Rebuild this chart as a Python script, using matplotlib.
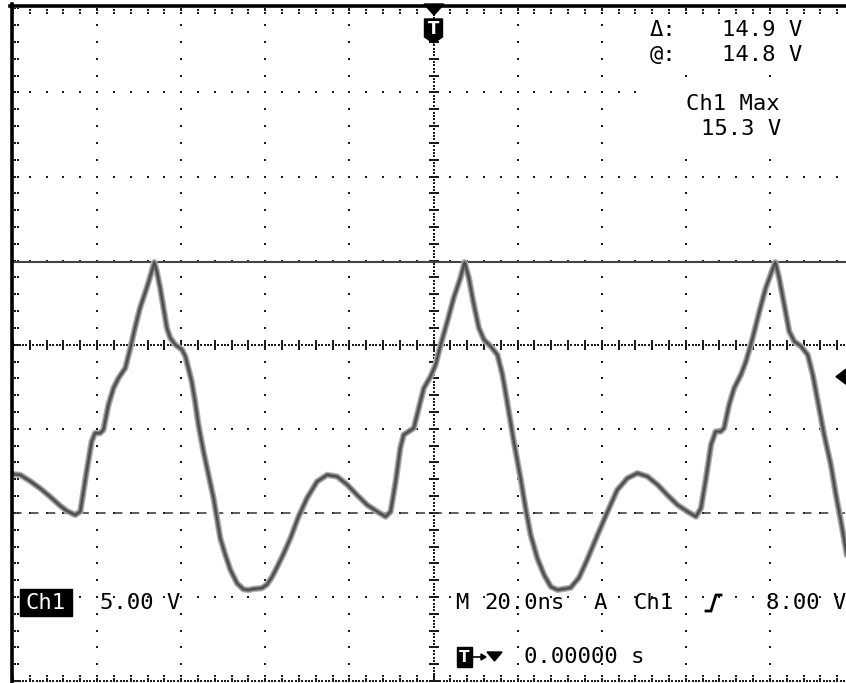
import numpy as np
import matplotlib
matplotlib.use("Agg")
import matplotlib.pyplot as plt
from matplotlib.patches import Polygon, Rectangle
from matplotlib.lines import Line2D

# Ch1 record: time in ns (trigger at 0) and voltage in V
time_ns = [-99.9, -98.3, -96.0, -93.6, -91.2, -88.8, -87.2, -85.2, -84.0, -82.5,
           -81.3, -80.5, -79.3, -78.5, -77.3, -76.1, -74.9, -73.3, -72.1, -71.0,
           -69.8, -68.2, -67.0, -66.4, -65.8, -65.0, -64.2, -63.4, -62.6, -61.4,
           -59.8, -59.0, -58.3, -57.5, -56.7, -55.9, -54.7, -53.5, -52.3, -51.5,
           -50.7, -49.5, -48.3, -46.7, -45.2, -44.0, -42.8, -40.8, -39.6, -38.4,
           -37.2, -35.6, -34.0, -32.1, -30.1, -27.7, -25.3, -22.9, -20.5, -18.2,
           -15.8, -13.4, -11.4, -10.2, -9.0, -7.9, -7.1, -5.9, -4.7, -3.5,
           -2.3, -0.7, 0.5, 1.7, 3.3, 4.8, 6.4, 7.4, 8.4, 9.6,
           10.8, 12.0, 13.6, 15.2, 16.4, 17.5, 19.1, 20.7, 21.9, 23.1,
           24.7, 26.3, 27.9, 29.5, 31.0, 32.6, 34.6, 36.6, 39.0, 41.4,
           43.7, 46.1, 48.5, 50.9, 53.3, 55.6, 58.0, 60.4, 62.4, 63.6,
           64.8, 66.0, 67.1, 68.3, 69.1, 70.3, 71.5, 73.1, 74.3, 75.9,
           77.5, 79.0, 80.6, 81.3, 82.2, 83.4, 84.6, 85.8, 87.4, 89.0,
           90.2, 91.4, 92.9, 94.5, 95.7, 96.9, 98.3]
volts = [2.20, 2.16, 1.80, 1.37, 0.87, 0.33, 0.02, -0.22, -0.02, 2.36,
         4.14, 4.64, 4.64, 4.84, 6.33, 7.32, 7.92, 8.51, 9.70, 10.89,
         12.08, 13.27, 14.26, 14.80, 14.26, 13.27, 12.08, 10.89, 10.30, 9.90,
         9.60, 9.20, 8.51, 7.71, 6.52, 5.14, 3.55, 2.16, 0.77, -0.42,
         -1.61, -2.60, -3.49, -4.29, -4.64, -4.68, -4.62, -4.57, -4.36, -3.91,
         -3.32, -2.50, -1.59, -0.32, 0.77, 1.76, 2.16, 2.06, 1.57, 0.97,
         0.38, -0.02, -0.32, -0.02, 1.76, 3.75, 4.54, 4.74, 4.94, 6.13,
         7.32, 8.01, 8.71, 9.90, 11.29, 12.68, 13.87, 14.80, 13.87, 12.28,
         10.89, 10.20, 9.80, 9.30, 8.11, 6.52, 4.14, 1.96, 0.18, -1.41,
         -2.80, -3.79, -4.49, -4.68, -4.62, -4.55, -3.95, -2.85, -1.41, -0.02,
         1.27, 1.96, 2.26, 2.06, 1.57, 0.97, 0.38, -0.02, -0.32, 0.18,
         1.96, 3.95, 4.74, 4.74, 4.94, 6.33, 7.32, 8.11, 8.90, 10.30,
         11.88, 13.27, 14.36, 14.80, 13.87, 12.28, 10.69, 10.10, 9.80, 9.30,
         8.11, 6.52, 4.54, 2.76, 0.97, -0.62, -2.60]

# Scope readouts
cursor_at_v = 14.8
cursor_delta_v = 14.9
ch1_max_v = 15.3
ch1_scale_v = 5.00
time_scale_ns = 20.0
trigger_level_v = 8.00
trigger_pos_s = 0.0

# Screen: 10 x 8 divisions; ground sits 0.1 V above the second line
y_lo = -2 * ch1_scale_v - 0.1
y_hi = y_lo + 8 * ch1_scale_v
t_lo, t_hi = -5 * time_scale_ns, 5 * time_scale_ns

W, H = 846, 683
LEFT, TOP, DIV = 13.0, 8.3, 84.1
fig = plt.figure(figsize=(W / 100, H / 100), dpi=100)
fig.patch.set_facecolor("white")
ax = fig.add_axes([LEFT / W, (H - TOP - 8 * DIV) / H, 10 * DIV / W, 8 * DIV / H])
ax.set_xlim(t_lo, t_hi)
ax.set_ylim(y_lo, y_hi)
ax.set_axis_off()

px_t = time_scale_ns / DIV      # ns per pixel
px_v = ch1_scale_v / DIV        # V per pixel


def P(x, y):
    """pixel position -> figure fraction"""
    return x / W, 1 - y / H


def ypix(v):
    return TOP + (y_hi - v) / (y_hi - y_lo) * 8 * DIV


# ---- graticule ----
dot = dict(marker="s", s=1.5, color="#1c1c1c", linewidths=0, zorder=2)
t_major = t_lo + time_scale_ns * np.arange(11)
v_major = y_lo + ch1_scale_v * np.arange(9)
t_minor = t_lo + time_scale_ns / 5 * np.arange(51)
v_minor = y_lo + ch1_scale_v / 5 * np.arange(41)
t_center = 0.5 * (t_lo + t_hi)
v_center = 0.5 * (y_lo + y_hi)

for t in t_major[1:-1]:
    if abs(t - t_center) > 1e-6:
        ax.scatter(np.full_like(v_minor, t), v_minor, **dot)
for v in v_major[1:-1]:
    if abs(v - v_center) > 1e-6:
        ax.scatter(t_minor, np.full_like(t_minor, v), **dot)

# centre cross: fine dotted lines with minor ticks
t_fine = t_lo + time_scale_ns / 25 * np.arange(251)
v_fine = y_lo + ch1_scale_v / 25 * np.arange(201)
ax.scatter(t_fine, np.full_like(t_fine, v_center), **dot)
ax.scatter(np.full_like(v_fine, t_center), v_fine, **dot)
for k in (-2, 2, -4, 4):
    ax.scatter(t_minor, np.full_like(t_minor, v_center + k * px_v), **dot)
    ax.scatter(np.full_like(v_minor, t_center + k * px_t), v_minor, **dot)

# edge ticks
for k in (2, 5):
    ax.scatter(np.full_like(v_minor, t_lo + k * px_t), v_minor, **dot)
    ax.scatter(t_minor, np.full_like(t_minor, y_hi - k * px_v), **dot)
    ax.scatter(t_minor, np.full_like(t_minor, y_lo + k * px_v), **dot)
ax.scatter(t_fine, np.full_like(t_fine, y_lo + 0.5 * px_v), **dot)

# ---- cursors ----
ax.axhline(cursor_at_v, color="#444444", lw=1.5, zorder=3)
ax.axhline(cursor_at_v - cursor_delta_v, color="#333333", lw=1.1,
           dashes=(6.2 / 1.1, 5.9 / 1.1), zorder=3)

# ---- trace ----
ax.plot(time_ns, volts, color="#b4b4b4", lw=4.6, solid_capstyle="round",
        solid_joinstyle="round", zorder=4)
ax.plot(time_ns, volts, color="#7a7a7a", lw=3.0, solid_capstyle="round",
        solid_joinstyle="round", zorder=5)
ax.plot(time_ns, volts, color="#4a4a4a", lw=1.3, solid_capstyle="round",
        solid_joinstyle="round", zorder=6)

# blank panels behind the measurement readouts
for (x0, y0, x1, y1) in [(637, 15, 838, 68), (637, 82, 838, 152)]:
    fig.add_artist(Rectangle(P(x0, y1), (x1 - x0) / W, (y1 - y0) / H,
                             color="white", zorder=5))

# ---- screen frame (top and left) ----
fig.add_artist(Line2D([10 / W, 1], [1 - 5.5 / H, 1 - 5.5 / H], color="black", lw=2.6))
fig.add_artist(Line2D([11.8 / W, 11.8 / W], [0, 1 - 4 / H], color="black", lw=2.6))

# trigger position marker
fig.add_artist(Polygon([P(424, 4), P(444, 4), P(434, 15)], closed=True,
                       color="black", zorder=10))
fig.add_artist(Polygon([P(424.5, 19), P(442.5, 19), P(442.5, 37), P(433.5, 43),
                        P(424.5, 37)], closed=True, color="black", zorder=10))
fig.text(*P(433.6, 29), "T", color="white", fontsize=12, fontweight="bold",
         ha="center", va="center", family="DejaVu Sans", zorder=11)

# trigger level marker on the right edge
yt = ypix(trigger_level_v)
fig.add_artist(Polygon([P(836, yt), P(846, yt - 7.5), P(846, yt + 7.5)],
                       closed=True, color="black", zorder=10))

# ---- readouts ----
txt = dict(fontsize=16, family=["DejaVu Sans Mono", "DejaVu Sans"], color="black",
           va="center", zorder=12)
fig.text(*P(650, 30), "\u0394:", ha="left", **txt)
fig.text(*P(802, 30), f"{cursor_delta_v:.1f} V", ha="right", **txt)
fig.text(*P(650, 55), "@:", ha="left", **txt)
fig.text(*P(802, 55), f"{cursor_at_v:.1f} V", ha="right", **txt)
fig.text(*P(733, 104), "Ch1 Max", ha="center", **txt)
fig.text(*P(741, 129), f"{ch1_max_v:.1f} V", ha="center", **txt)

fig.add_artist(Rectangle(P(20, 616), 52 / W, 27 / H, color="black", zorder=11))
fig.text(*P(46, 603), "Ch1", ha="center", **{**txt, "color": "white"})
fig.text(*P(100, 603), f"{ch1_scale_v:.2f} V", ha="left", **txt)

fig.text(*P(455, 603), "M", ha="left", **txt)
fig.text(*P(484, 603), f"{time_scale_ns:.1f}ns", ha="left", **txt)
fig.text(*P(594, 603), "A", ha="left", **txt)
fig.text(*P(633, 603), "Ch1", ha="left", **txt)
fig.add_artist(Line2D([706 / W, 711 / W, 716 / W, 721 / W],
                      [1 - 611 / H, 1 - 611 / H, 1 - 595 / H, 1 - 595 / H],
                      color="black", lw=2.0, solid_joinstyle="miter"))
fig.text(*P(846, 603), f"{trigger_level_v:.2f} V", ha="right", **txt)

fig.add_artist(Rectangle(P(457, 667), 15 / W, 20 / H, color="black", zorder=11))
fig.text(*P(464.5, 657), "T", color="white", fontsize=11, fontweight="bold",
         ha="center", va="center", family="DejaVu Sans", zorder=12)
fig.add_artist(Line2D([472 / W, 483 / W], [1 - 657 / H, 1 - 657 / H],
                      color="black", lw=1.2))
fig.add_artist(Polygon([P(481, 654), P(486, 657), P(481, 660)], closed=True,
                       color="black"))
fig.add_artist(Polygon([P(487, 652), P(502, 652), P(494.5, 661)], closed=True,
                       color="black"))
fig.text(*P(524, 657), f"{trigger_pos_s:.5f} s", ha="left", **txt)

fig.savefig("out.png", dpi=100, facecolor="white")
